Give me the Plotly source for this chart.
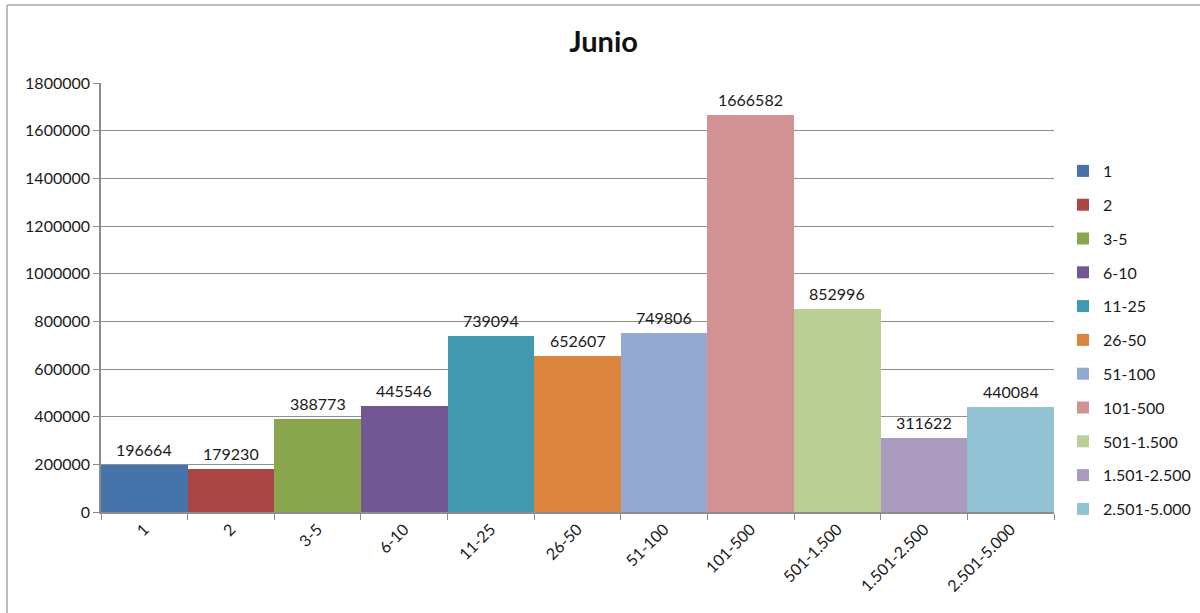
import plotly.graph_objects as go

# Tamaños de explotación y número de cabezas en junio
categorias = ["1", "2", "3-5", "6-10", "11-25", "26-50", "51-100",
              "101-500", "501-1.500", "1.501-2.500", "2.501-5.000"]
valores = [196664, 179230, 388773, 445546, 739094, 652607, 749806,
           1666582, 852996, 311622, 440084]
colores = ["#4674AA", "#AA4744", "#89A54E", "#725892", "#4199B0", "#DB843E",
           "#94AAD0", "#D29293", "#B9CF96", "#A99ABE", "#92C3D4"]
ticks_y = [0, 200000, 400000, 600000, 800000, 1000000, 1200000,
           1400000, 1600000, 1800000]

fuente = "Lato, Carlito, 'Open Sans', sans-serif"

fig = go.Figure()
for i, (cat, val, col) in enumerate(zip(categorias, valores, colores)):
    fig.add_trace(go.Bar(
        x=[cat], y=[val], name=cat, legendgroup=cat,
        marker=dict(color=col, line=dict(width=0)),
    ))
    # Etiqueta con el valor sobre cada barra (posición por índice de categoría)
    fig.add_annotation(x=i, y=val, text=str(val), showarrow=False,
                       yanchor="bottom", yshift=4,
                       font=dict(size=16, color="#1a1a1a", family=fuente))

fig.update_layout(
    width=1200, height=613,
    margin=dict(l=101, r=146, t=83, b=101, autoexpand=False),
    paper_bgcolor="white", plot_bgcolor="white",
    barmode="overlay", bargap=0,
    font=dict(family=fuente, size=16, color="#1a1a1a"),
    title=dict(text="<b>Junio</b>", x=0.503, xref="container",
               y=1 - 42 / 613, yref="container", yanchor="middle",
               xanchor="center", font=dict(size=29, color="#111")),
    legend=dict(xref="container", x=1063 / 1200, xanchor="left",
                yref="container", y=1 - 154 / 613, yanchor="top",
                traceorder="grouped", tracegroupgap=10, maxheight=600,
                font=dict(size=16), itemwidth=30,
                bgcolor="rgba(0,0,0,0)"),
    xaxis=dict(type="category", categoryorder="array", categoryarray=categorias,
               tickson="boundaries", ticks="outside", ticklen=6,
               tickcolor="#8c8c8c", showline=True, linecolor="#8c8c8c",
               linewidth=1.5, tickangle=-45, showgrid=False,
               tickfont=dict(size=16)),
    yaxis=dict(range=[0, 1800000], tickvals=ticks_y,
               ticktext=[str(v) for v in ticks_y],
               ticks="outside", ticklen=6, tickcolor="#8c8c8c",
               showline=True, linecolor="#8c8c8c", linewidth=1.5,
               showgrid=True, gridcolor="#8f8f8f", gridwidth=1,
               zeroline=False, tickfont=dict(size=16)),
)

# Marco exterior del gráfico
x_izq = (7 - 101) / 953
y_sup = (512 - 5) / 429
fig.add_shape(type="line", xref="paper", yref="paper",
              x0=x_izq, x1=x_izq, y0=-0.4, y1=y_sup,
              line=dict(color="#a6a6a6", width=1.5))
fig.add_shape(type="line", xref="paper", yref="paper",
              x0=x_izq, x1=1.3, y0=y_sup, y1=y_sup,
              line=dict(color="#a6a6a6", width=1.5))

fig.write_html("out.html")
